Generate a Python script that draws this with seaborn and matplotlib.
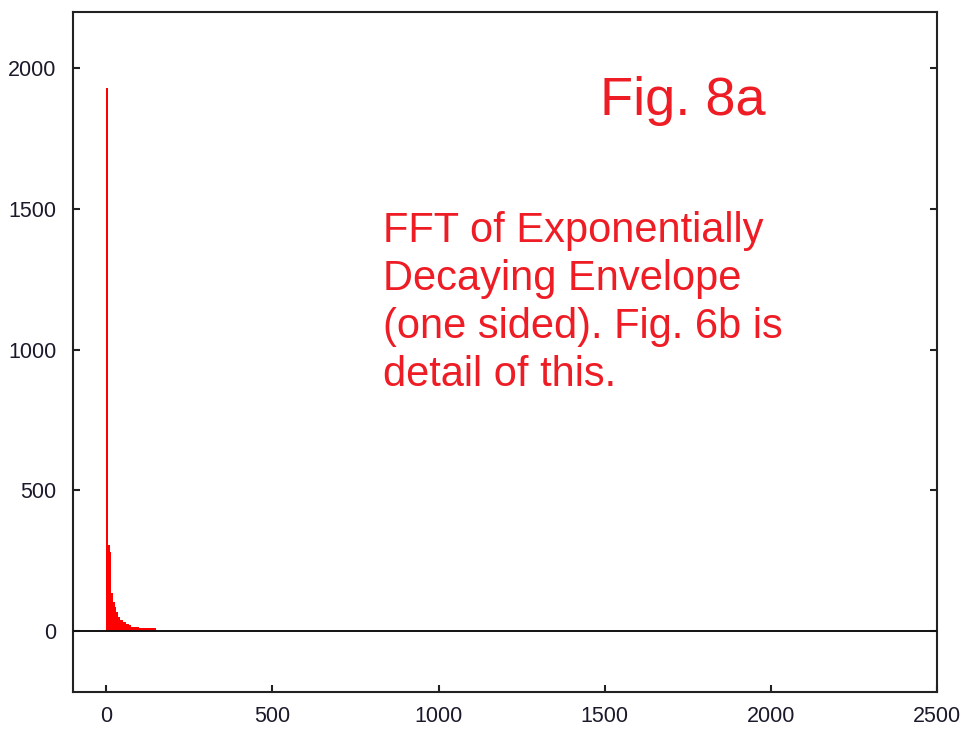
import numpy as np
import pandas as pd
import matplotlib
matplotlib.use("Agg")
import matplotlib.pyplot as plt
import seaborn as sns

# Data (frequency bin start, magnitude)
freq = [0, 5, 10, 15, 20, 25, 30, 35, 40, 45, 50, 55, 60, 65, 70,
        75, 80, 85, 90, 95,
        100, 105, 110, 115, 120, 125, 130, 135, 140, 145]
magnitude = [1930, 305, 280, 135, 104, 86, 67, 51, 39, 39, 31, 31, 24, 24, 21,
             15, 15, 15, 15, 15,
             10, 10, 10, 10, 10, 10, 10, 10, 10, 10]
xticks = [0, 500, 1000, 1500, 2000, 2500]
yticks = [0, 500, 1000, 1500, 2000]
title_text = "Fig. 8a"
note_text = "FFT of Exponentially\nDecaying Envelope\n(one sided). Fig. 6b is\ndetail of this."

sns.set_style("white")
plt.rcParams['font.family'] = ['Liberation Sans', 'DejaVu Sans']

df = pd.DataFrame({"freq": freq, "magnitude": magnitude})

fig = plt.figure(figsize=(9.69, 7.29), dpi=100)
ax = fig.add_axes([73/969, 1 - 692/729, (937 - 73)/969, (692 - 12)/729])

sns.histplot(data=df, x="freq", weights="magnitude", binwidth=5, binrange=(0, 150),
             color="#ff0000", alpha=1, edgecolor="none", linewidth=0, ax=ax)

ax.axhline(0, color="#111111", lw=1.4, zorder=3)

ax.set_xlim(-100, 2500)
ax.set_ylim(-217, 2200)
ax.set_xticks(xticks)
ax.set_yticks(yticks)
ax.set_xlabel("")
ax.set_ylabel("")

for s in ax.spines.values():
    s.set_color("#222222")
    s.set_linewidth(1.5)
    s.set_visible(True)

ax.tick_params(axis="both", direction="in", length=5, width=1.5, color="#222222",
               labelsize=15.5, labelcolor="#1a1a2a")
ax.tick_params(axis="y", right=True, left=True, pad=12)
ax.tick_params(axis="x", bottom=True, top=False, pad=10)

text_color = "#ee1c24"
ax.text(600/969, 1 - 115/729, title_text, transform=fig.transFigure,
        fontsize=39, color=text_color, ha="left", va="baseline")
ax.text(383/969, 1 - 211/729, note_text, transform=fig.transFigure,
        fontsize=30, color=text_color, ha="left", va="top", linespacing=1.26)

fig.savefig("out.png", dpi=100)
